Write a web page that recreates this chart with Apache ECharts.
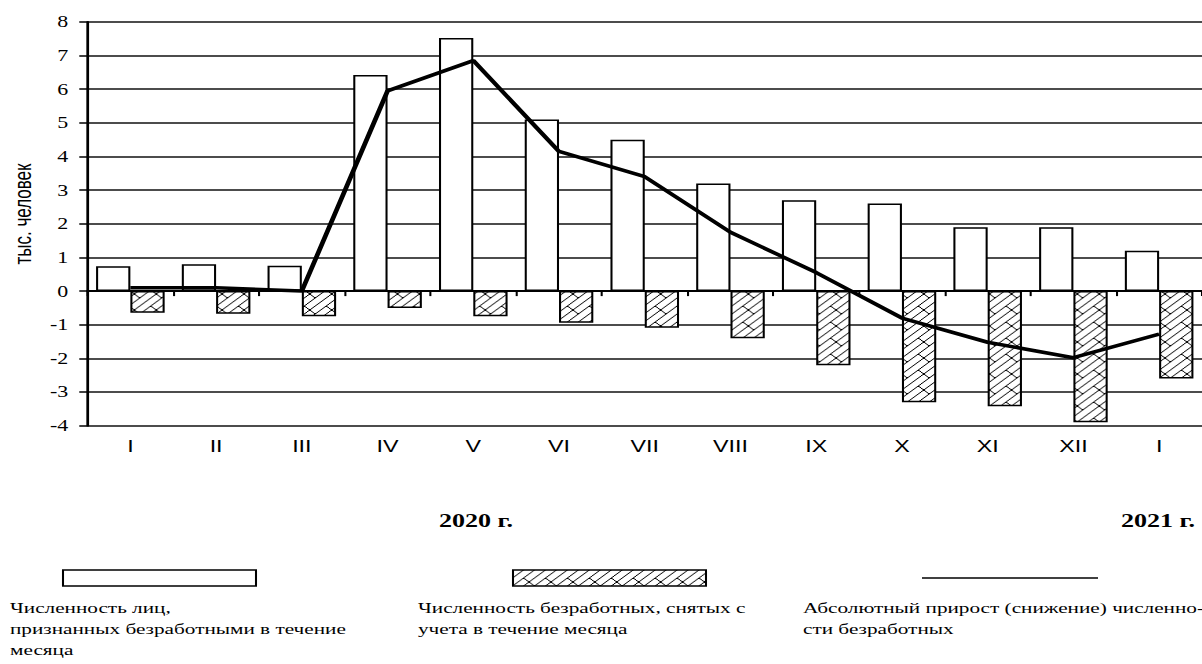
<!DOCTYPE html>
<html>
<head>
<meta charset="utf-8">
<script src="https://cdn.jsdelivr.net/npm/echarts@6/dist/echarts.min.js"></script>
<style>
  html, body { margin: 0; padding: 0; background: #fff; overflow: hidden; }
  #chart { width: 877px; height: 664px; transform: scaleX(1.37058); transform-origin: 0 0; }
</style>
</head>
<body>
<div id="chart"></div>
<script>
// months of 2020 and January 2021
const months = ["I", "II", "III", "IV", "V", "VI", "VII", "VIII", "IX", "X", "XI", "XII", "I"];
// recognised as unemployed during the month, thousand people
const recognized = [0.74, 0.8, 0.75, 6.42, 7.52, 5.1, 4.5, 3.2, 2.7, 2.6, 1.9, 1.9, 1.2];
// removed from the register during the month
const removed = [-0.64, -0.67, -0.75, -0.5, -0.75, -0.94, -1.09, -1.4, -2.2, -3.3, -3.42, -3.9, -2.6];
// absolute growth (decline) of the number of unemployed
const change = [0.1, 0.1, 0, 5.95, 6.85, 4.15, 3.4, 1.75, 0.55, -0.8, -1.52, -1.98, -1.28];

// the picture is stretched horizontally, so the chart is drawn narrow and scaled
const S = 1202 / 877;
const sx = (x) => x / S;

const serif = "Liberation Serif";
const sans = "Liberation Sans";

function makeBrick() {
	const T = 16;
	const c = document.createElement("canvas");
	c.width = T;
	c.height = T;
	const g = c.getContext("2d");
	g.fillStyle = "#fff";
	g.fillRect(0, 0, T, T);
	g.strokeStyle = "#000";
	g.lineWidth = 1;
	g.beginPath();
	for (const ox of [-T, 0, T]) {
		for (const oy of [-T, 0, T]) {
			for (let k = 0; k <= 4; k++) {
				g.moveTo(ox + 8 * k, oy);
				g.lineTo(ox, oy + 8 * k);
			}
			g.moveTo(ox + 2, oy + 6);
			g.lineTo(ox + 6, oy + 10);
			g.moveTo(ox + 14, oy + 2);
			g.lineTo(ox + 18, oy + 6);
		}
	}
	g.stroke();
	return c;
}

const brick = { image: makeBrick(), repeat: "repeat" };

const myChart = echarts.init(document.getElementById("chart"), null, { renderer: "svg" });

const legendFont = "15.5px " + serif;

const option = {
	animation: false,
	backgroundColor: "#fff",
	grid: { left: sx(87.5), right: 0, top: 21.9, bottom: 664 - 425.7 },
	xAxis: [
		{
			type: "category",
			data: months,
			position: "bottom",
			axisLine: { show: false, onZero: false },
			axisTick: { show: false },
			axisLabel: { color: "#000", fontFamily: sans, fontSize: 17, margin: 12 },
		},
		{
			type: "category",
			data: months,
			position: "bottom",
			axisLine: { show: true, onZero: true, lineStyle: { color: "#000", width: 2 } },
			axisTick: { show: true, length: 5, lineStyle: { color: "#000", width: 1.5 } },
			axisLabel: { show: false },
		},
	],
	yAxis: {
		type: "value",
		min: -4,
		max: 8,
		interval: 1,
		axisLine: { show: true, lineStyle: { color: "#000", width: 2 } },
		axisTick: { show: true, length: 6, lineStyle: { color: "#000", width: 1.5 } },
		axisLabel: { color: "#000", fontFamily: serif, fontSize: 16, margin: 14 },
		splitLine: { show: true, lineStyle: { color: "#111", width: 1.5 } },
	},
	series: [
		{
			type: "bar",
			xAxisIndex: 0,
			data: recognized,
			barGap: "0%",
			barCategoryGap: "20%",
			itemStyle: { color: "#fff", borderColor: "#000", borderWidth: 1.5 },
		},
		{
			type: "bar",
			xAxisIndex: 0,
			data: removed,
			itemStyle: { color: brick, borderColor: "#000", borderWidth: 1.5 },
		},
		{
			type: "line",
			xAxisIndex: 0,
			data: change,
			symbol: "none",
			z: 5,
			lineStyle: { color: "#000", width: 3.5 },
		},
	],
	graphic: [
		{
			type: "text",
			x: sx(23),
			y: 214,
			rotation: Math.PI / 2,
			style: { text: "тыс. человек", font: "17px " + sans, fill: "#000", align: "center", verticalAlign: "middle" },
		},
		{
			type: "text",
			x: sx(476),
			y: 521,
			style: { text: "2020 г.", font: "bold 19px " + serif, fill: "#000", align: "center", verticalAlign: "middle" },
		},
		{
			type: "text",
			x: sx(1158),
			y: 521,
			style: { text: "2021 г.", font: "bold 19px " + serif, fill: "#000", align: "center", verticalAlign: "middle" },
		},
		{
			type: "rect",
			shape: { x: sx(63), y: 570, width: sx(193), height: 16 },
			style: { fill: "#fff", stroke: "#000", lineWidth: 1.5 },
		},
		{
			type: "rect",
			shape: { x: sx(513), y: 570, width: sx(193), height: 16 },
			style: { fill: brick, stroke: "#000", lineWidth: 1.5 },
		},
		{
			type: "line",
			shape: { x1: sx(922), y1: 578, x2: sx(1098), y2: 578 },
			style: { stroke: "#000", lineWidth: 1.5 },
		},
		{
			type: "text",
			x: sx(10),
			y: 597.5,
			style: {
				text: "Численность лиц,\nпризнанных безработными в течение\nмесяца",
				font: legendFont, lineHeight: 21, fill: "#000", verticalAlign: "top",
			},
		},
		{
			type: "text",
			x: sx(418),
			y: 597.5,
			style: {
				text: "Численность безработных, снятых с\nучета в течение месяца",
				font: legendFont, lineHeight: 21, fill: "#000", verticalAlign: "top",
			},
		},
		{
			type: "text",
			x: sx(803),
			y: 597.5,
			style: {
				text: "Абсолютный прирост (снижение) численно-\nсти безработных",
				font: legendFont, lineHeight: 21, fill: "#000", verticalAlign: "top",
			},
		},
	],
};

myChart.setOption(option);
</script>
</body>
</html>
